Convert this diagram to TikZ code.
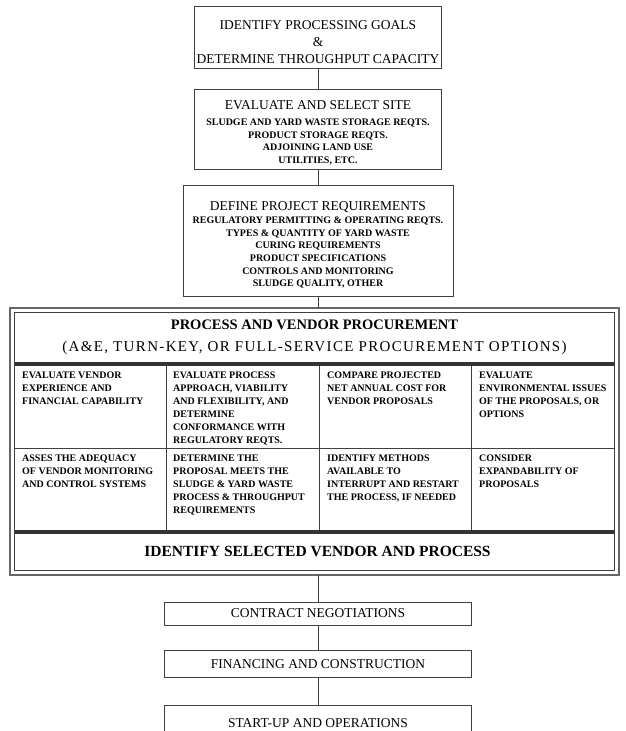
\documentclass[tikz,border=0pt]{standalone}
\usepackage{fontspec}
\setmainfont{Liberation Serif}
\usetikzlibrary{positioning}

\newcommand{\headfont}{\fontsize{13.5}{16.5}\selectfont}
\newcommand{\smallfont}{\bfseries\fontsize{10}{12.7}\selectfont}
\newcommand{\detail}[1]{{\smallfont\begin{tabular}[t]{@{}c@{}}#1\end{tabular}}}

\begin{document}
\begin{tikzpicture}[
        x=1pt,
        y=-1pt,
        box/.style={
          draw=black!75,
          line width=0.8pt,
          align=center,
          inner sep=0pt,
          font=\headfont
          },
        cell/.style={
          anchor=north west,
          align=left,
          inner sep=0pt,
          font=\bfseries\fontsize{10}{13}\selectfont
          },
        link/.style={
          draw=black!75,
          line width=0.8pt
          },
        grid/.style={
          draw=black!75,
          line width=0.8pt
          },
        bar/.style={
          draw=black!80,
          line width=4.5pt
          }
        ]
  \useasboundingbox (0,0) rectangle (626,731);
  \clip (0,0) rectangle (626,731);

  \node[box, minimum width=247pt, minimum height=62pt] (goals) at (318,37)
    {\rule{0pt}{19pt}IDENTIFY PROCESSING GOALS\\[0.5pt] \&\\[0.5pt] DETERMINE THROUGHPUT CAPACITY};
  \node[box, minimum width=247pt, minimum height=80pt] (site) at (318,129)
    {\rule{0pt}{18.5pt}EVALUATE AND SELECT SITE\\
     \detail{SLUDGE AND YARD WASTE STORAGE REQTS.\\ PRODUCT STORAGE REQTS.\\ ADJOINING LAND USE\\ UTILITIES, ETC.}};
  \node[box, minimum width=270pt, minimum height=111pt] (reqs) at (318,240.5)
    {\rule{0pt}{20.5pt}DEFINE PROJECT REQUIREMENTS\\[-4pt]
     \detail{REGULATORY PERMITTING \& OPERATING REQTS.\\ TYPES \& QUANTITY OF YARD WASTE\\ CURING REQUIREMENTS\\ PRODUCT SPECIFICATIONS\\ CONTROLS AND MONITORING\\ SLUDGE QUALITY, OTHER}};

  % procurement frame
  \draw[draw=black!60, line width=1.6pt] (10,308) rectangle (619,575);
  \draw[draw=black!75, line width=0.6pt] (14.5,312.5) rectangle (614.5,570.5);
  \coordinate (proctop) at (318,308);
  \coordinate (procbot) at (318,575);

  \node[align=center, inner sep=0pt, font=\fontsize{14.5}{22}\selectfont] (prochead) at (314.5,337)
    {\bfseries PROCESS AND VENDOR PROCUREMENT\\
     \fontsize{15}{22}\selectfont\addfontfeatures{LetterSpace=9}(A\&E, TURN-KEY, OR FULL-SERVICE PROCUREMENT OPTIONS)};

  \draw[bar] (14.5,364) -- (614.5,364);
  \draw[bar] (14.5,532) -- (614.5,532);
  \draw[grid] (14.5,448) -- (614.5,448);
  \foreach \cx in {166,319,471}
    \draw[grid] (\cx,366) -- (\cx,530);

  \node[cell] (vendor) at (22,372)
    {EVALUATE VENDOR\\ EXPERIENCE AND\\ FINANCIAL CAPABILITY};
  \node[cell] (approach) at (173,372)
    {EVALUATE PROCESS\\ APPROACH, VIABILITY\\ AND FLEXIBILITY, AND\\ DETERMINE\\ CONFORMANCE WITH\\ REGULATORY REQTS.};
  \node[cell] (cost) at (327,372)
    {COMPARE PROJECTED\\ NET ANNUAL COST FOR\\ VENDOR PROPOSALS};
  \node[cell] (environ) at (479,372)
    {EVALUATE\\ ENVIRONMENTAL ISSUES\\ OF THE PROPOSALS, OR\\ OPTIONS};
  \node[cell] (monitor) at (22,455)
    {ASSES THE ADEQUACY\\ OF VENDOR MONITORING\\ AND CONTROL SYSTEMS};
  \node[cell] (meets) at (173,455)
    {DETERMINE THE\\ PROPOSAL MEETS THE\\ SLUDGE \& YARD WASTE\\ PROCESS \& THROUGHPUT\\ REQUIREMENTS};
  \node[cell] (restart) at (327,455)
    {IDENTIFY METHODS\\ AVAILABLE TO\\ INTERRUPT AND RESTART\\ THE PROCESS, IF NEEDED};
  \node[cell] (expand) at (479,455)
    {CONSIDER\\ EXPANDABILITY OF\\ PROPOSALS};

  \node[inner sep=0pt, font=\bfseries\fontsize{15.5}{18}\selectfont] (select) at (317.5,551)
    {IDENTIFY SELECTED VENDOR AND PROCESS};

  \node[box, minimum width=307pt, minimum height=23pt] (contract) at (318,613.5)
    {CONTRACT NEGOTIATIONS};
  \node[box, minimum width=307pt, minimum height=27pt] (finance) at (318,664)
    {FINANCING AND CONSTRUCTION};
  \node[box, minimum width=307pt, minimum height=36pt] (startup) at (318,723)
    {START-UP AND OPERATIONS};

  \draw[link] (goals) -- (site);
  \draw[link] (site) -- (reqs);
  \draw[link] (reqs) -- (proctop);
  \draw[link] (procbot) -- (contract);
  \draw[link] (contract) -- (finance);
  \draw[link] (finance) -- (startup);
\end{tikzpicture}
\end{document}
